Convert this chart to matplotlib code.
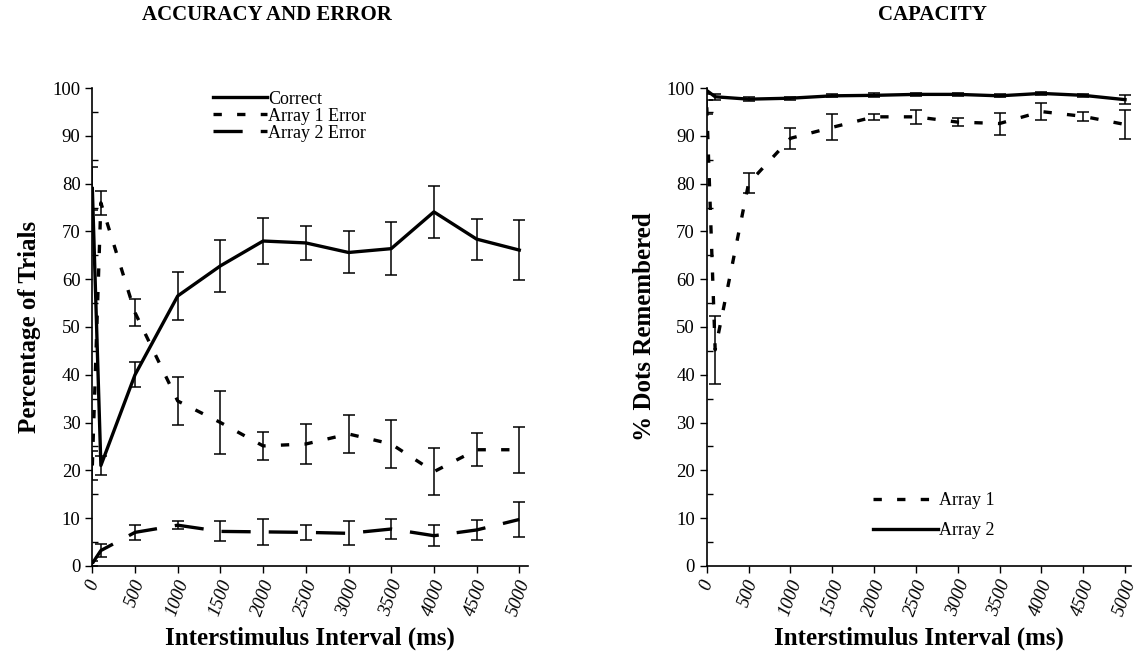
import matplotlib.pyplot as plt
from matplotlib.ticker import MultipleLocator

# interstimulus intervals (ms)
isi = [0, 100, 500, 1000, 1500, 2000, 2500, 3000, 3500, 4000, 4500, 5000]

# accuracy and error (% of trials)
correct = [79, 21, 40, 56.5, 62.8, 68, 67.6, 65.6, 66.4, 74.1, 68.4, 66.1]
correct_err = [4.5, 2, 2.6, 5, 5.5, 4.8, 3.6, 4.4, 5.6, 5.4, 4.3, 6.2]
array1_error = [21, 76, 53, 34.5, 30, 25.1, 25.5, 27.6, 25.5, 19.7, 24.3, 24.3]
array1_error_err = [3, 2.5, 2.8, 5, 6.6, 2.9, 4.2, 4, 5.1, 4.9, 3.5, 4.8]
array2_error = [0.5, 3.2, 7, 8.5, 7.2, 7.1, 7, 6.8, 7.7, 6.3, 7.5, 9.7]
array2_error_err = [0.5, 1.4, 1.6, 0.9, 2.1, 2.7, 1.6, 2.5, 2, 2.2, 2.1, 3.7]

# capacity (% dots remembered)
array1_cap = [96, 45.2, 80.1, 89.5, 91.8, 94, 94, 92.9, 92.6, 95.1, 94.1, 92.4]
array1_cap_err = [1.5, 7.1, 2.1, 2.2, 2.7, 0.6, 1.4, 0.8, 2.3, 1.7, 1, 3]
array2_cap = [99.5, 98.2, 97.7, 97.9, 98.4, 98.5, 98.7, 98.7, 98.4, 98.9, 98.5, 97.6]
array2_cap_err = [0.8, 0.6, 0.4, 0.3, 0.3, 0.4, 0.3, 0.3, 0.3, 0.3, 0.3, 0.9]

xticks = list(range(0, 5001, 500))

plt.rcParams['font.family'] = ['Liberation Serif', 'DejaVu Serif']
plt.rcParams['lines.scale_dashes'] = False

SHORT_DASH = (0, (6, 11))
LONG_DASH = (0, (21, 13))


def style_axes(ax, xmax):
    ax.set_xlim(0, xmax)
    ax.set_ylim(0, 100)
    ax.spines['top'].set_visible(False)
    ax.spines['right'].set_visible(False)
    ax.spines['left'].set_linewidth(1.2)
    ax.spines['bottom'].set_linewidth(1.2)
    ax.set_xticks(xticks)
    ax.set_xticklabels([str(t) for t in xticks], rotation=70, fontsize=13.5,
                       style='italic')
    ax.yaxis.set_major_locator(MultipleLocator(10))
    ax.yaxis.set_minor_locator(MultipleLocator(5))
    ax.tick_params(axis='y', which='major', direction='out', length=5,
                   width=1, labelsize=13.5)
    ax.tick_params(axis='y', which='minor', direction='in', length=4, width=1)
    ax.tick_params(axis='x', direction='out', length=5, width=1)
    ax.set_xlabel('Interstimulus Interval (ms)', fontsize=18,
                  fontweight='bold', labelpad=6)


def draw_series(ax, y, err, ls, label):
    ax.plot(isi, y, color='black', lw=2.4, linestyle=ls, label=label)
    ax.errorbar(isi, y, yerr=err, fmt='none', ecolor='black',
                elinewidth=1.1, capsize=4, capthick=1.1)


fig = plt.figure(figsize=(11.4, 6.68), dpi=100)

ax1 = fig.add_axes([0.081, 0.153, 0.382, 0.715])
draw_series(ax1, correct, correct_err, '-', 'Correct')
draw_series(ax1, array1_error, array1_error_err, SHORT_DASH, 'Array 1 Error')
draw_series(ax1, array2_error, array2_error_err, LONG_DASH, 'Array 2 Error')
style_axes(ax1, 5100)
ax1.set_ylabel('Percentage of Trials', fontsize=18, fontweight='bold',
               labelpad=8)
ax1.legend(loc='upper left', bbox_to_anchor=(0.26, 1.01), frameon=False,
           fontsize=13, handlelength=3.0, handletextpad=0.05,
           labelspacing=0.0, borderaxespad=0)

ax2 = fig.add_axes([0.620, 0.153, 0.372, 0.715])
draw_series(ax2, array1_cap, array1_cap_err, SHORT_DASH, 'Array 1')
draw_series(ax2, array2_cap, array2_cap_err, '-', 'Array 2')
style_axes(ax2, 5070)
ax2.set_ylabel('% Dots Remembered', fontsize=18, fontweight='bold',
               labelpad=8)
ax2.legend(loc='upper left', bbox_to_anchor=(0.375, 0.17), frameon=False,
           fontsize=13, handlelength=3.6, handletextpad=0.05,
           labelspacing=0.75, borderaxespad=0)

fig.text(0.234, 0.977, 'ACCURACY AND ERROR', ha='center', va='center',
         fontsize=15, fontweight='bold')
fig.text(0.818, 0.977, 'CAPACITY', ha='center', va='center',
         fontsize=15, fontweight='bold')

fig.savefig('out.png', dpi=100)
